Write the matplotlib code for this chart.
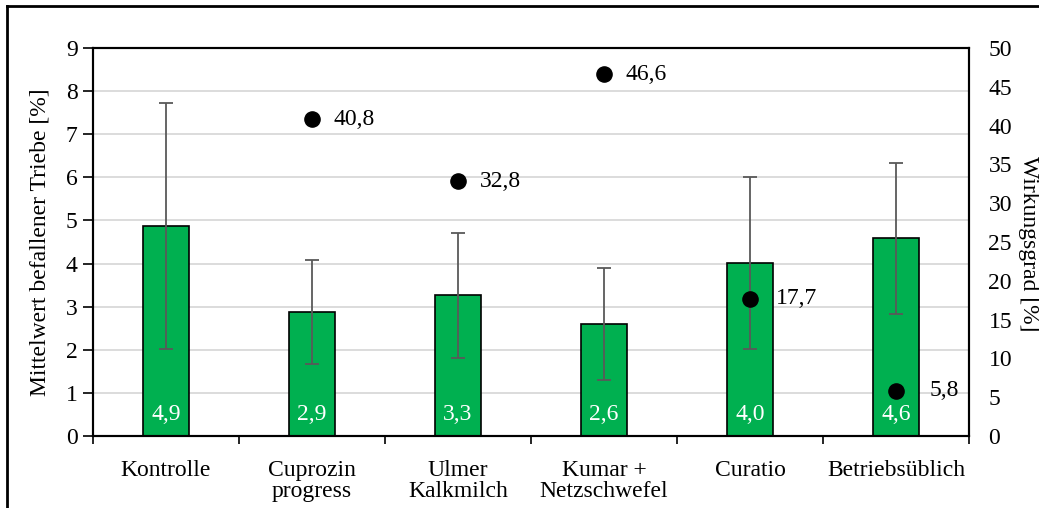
import numpy as np
import matplotlib
matplotlib.use("Agg")
import matplotlib.pyplot as plt
from matplotlib.lines import Line2D

plt.rcParams['font.family'] = ['Liberation Serif', 'DejaVu Serif']

categories = ["Kontrolle", "Cuprozin\nprogress", "Ulmer\nKalkmilch",
              "Kumar +\nNetzschwefel", "Curatio", "Betriebsüblich"]
befall = [4.87, 2.88, 3.27, 2.60, 4.01, 4.59]
befall_labels = ["4,9", "2,9", "3,3", "2,6", "4,0", "4,6"]
fehler = [2.85, 1.2, 1.45, 1.3, 2.0, 1.75]
wirkung = [np.nan, 40.8, 32.8, 46.6, 17.7, 5.8]
wirkung_labels = ["", "40,8", "32,8", "46,6", "17,7", "5,8"]
label_dx = [0, 0.15, 0.15, 0.15, 0.18, 0.23]

fs = 17
fig = plt.figure(figsize=(10.39, 5.08), dpi=100)
ax = fig.add_axes([93 / 1039, 1 - 436 / 508, 876 / 1039, 388 / 508])
x = np.arange(len(categories))

ax.bar(x, befall, width=0.315, color='#00B050', edgecolor='black',
       linewidth=1.2, zorder=2)
ax.errorbar(x, befall, yerr=fehler, fmt='none', ecolor='#595959',
            elinewidth=1.3, capsize=5, capthick=1.3, zorder=3)
for xi, lab in zip(x, befall_labels):
    ax.text(xi, 0.25, lab, ha='center', va='bottom', color='white',
            fontsize=fs, zorder=4)

ax.set_xlim(-0.5, len(categories) - 0.5)
ax.set_ylim(0, 9)
ax.set_yticks(range(0, 10))
ax.yaxis.grid(True, color='#d9d9d9', linewidth=1.3, zorder=0)
ax.set_axisbelow(True)
ax.set_xticks(x)
ax.set_xticklabels(categories, fontsize=fs, linespacing=1.0)
ax.set_xticks(np.arange(-0.5, len(categories)), minor=True)
ax.tick_params(axis='x', which='major', length=0, pad=17)
ax.tick_params(axis='x', which='minor', length=6, width=1.2, direction='out')
ax.tick_params(axis='y', labelsize=fs, length=7, width=1.2, direction='out',
               pad=4)
ax.set_ylabel("Mittelwert befallener Triebe [%]", fontsize=fs, labelpad=11)
for s in ax.spines.values():
    s.set_linewidth(1.5)

ax2 = ax.twinx()
ax2.set_ylim(0, 50)
ax2.set_yticks(range(0, 55, 5))
ax2.tick_params(axis='y', labelsize=fs, length=0, pad=14)
ax2.scatter(x, wirkung, s=120, color='black', zorder=5)
for xi, w, lab, dx in zip(x, wirkung, wirkung_labels, label_dx):
    if lab:
        ax2.text(xi + dx, w, lab, ha='left', va='center', fontsize=fs)
for s in ax2.spines.values():
    s.set_linewidth(1.5)
fig.text(1028 / 1039, 1 - 244 / 508, "Wirkungsgrad [%]", rotation=-90,
         ha='center', va='center', fontsize=fs)

fig.add_artist(Line2D([7 / 1039, 7 / 1039], [0, 1 - 6 / 508],
                      transform=fig.transFigure, color='black', linewidth=2))
fig.add_artist(Line2D([7 / 1039, 1], [1 - 6 / 508, 1 - 6 / 508],
                      transform=fig.transFigure, color='black', linewidth=2))

fig.savefig("out.png", dpi=100)
